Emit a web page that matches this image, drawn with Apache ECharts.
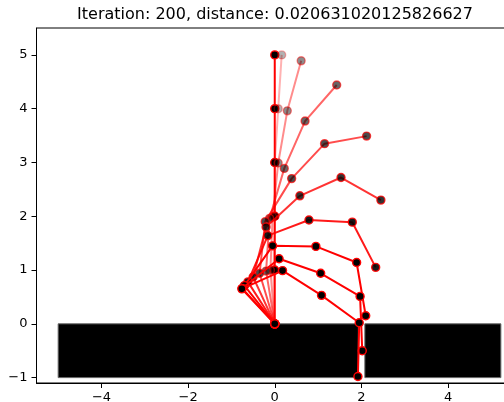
<!DOCTYPE html>
<html>
<head>
<meta charset="utf-8">
<script src="https://cdn.jsdelivr.net/npm/echarts@6/dist/echarts.min.js"></script>
<style>
html,body{margin:0;padding:0;background:#fff;}
#main{width:504px;height:402px;}
</style>
</head>
<body>
<div id="main"></div>
<script>
// ---- data ----
var titleText = 'Iteration: 200, distance: 0.020631020125826627';
var xTicks = [-4, -2, 0, 2, 4];
var yTicks = [-1, 0, 1, 2, 3, 4, 5];
var xRange = [-5.5, 5.5];
var yRange = [-1.1, 5.5];
// obstacles: [xStart, xEnd, yStart, yEnd]
var obstacleLeft = [-5.0, 1.93, -1.0, 0.0];
var obstacleRight = [2.08, 5.22, -1.0, 0.0];
// arm configurations over iterations (joint positions)
var chain0 = [[0,0],[0,1],[0,2],[0,3],[0,4],[0,5]];
var chain1 = [[0,0],[-0.03,1.0],[0,2.0],[0.0,3.0],[0.08,4.0],[0.16,5.0]];
var chain2 = [[0,0],[-0.1,0.995],[-0.05,1.99],[0.08,2.99],[0.29,3.96],[0.61,4.89]];
var chain3 = [[0,0],[-0.2,0.98],[-0.12,1.96],[0.22,2.89],[0.70,3.77],[1.43,4.44]];
var chain4 = [[0,0],[-0.35,0.94],[-0.22,1.90],[0.39,2.70],[1.15,3.35],[2.12,3.49]];
var chain5 = [[0,0],[-0.5,0.87],[-0.20,1.80],[0.58,2.38],[1.53,2.72],[2.45,2.30]];
var chain6 = [[0,0],[-0.62,0.78],[-0.16,1.64],[0.79,1.93],[1.79,1.89],[2.33,1.05]];
var chain7 = [[0,0],[-0.70,0.71],[-0.05,1.45],[0.95,1.44],[1.89,1.14],[2.10,0.15]];
var chain8 = [[0,0],[-0.75,0.66],[0.10,1.21],[1.06,0.94],[1.97,0.51],[2.02,-0.50]];
var chain9 = [[0,0],[-0.76,0.65],[0.18,0.99],[1.08,0.53],[1.95,0.02],[1.92,-0.98]];
var chains = [chain0, chain1, chain2, chain3, chain4, chain5, chain6, chain7, chain8, chain9];
var chainAlpha = [1.0, 0.3, 0.45, 0.6, 0.7, 0.8, 0.9, 1.0, 1.0, 1.0];

// ---- chart ----
function fmt(v){ return String(v).replace('-', '\u2212'); }
var FONT = 'DejaVu Sans';

var series = [];
series.push({
  type: 'custom',
  silent: true,
  z: 1,
  data: [obstacleLeft, obstacleRight],
  renderItem: function(params, api){
    var p0 = api.coord([api.value(0), api.value(3)]);
    var p1 = api.coord([api.value(1), api.value(2)]);
    return {
      type: 'rect',
      shape: {x: p0[0], y: p0[1], width: p1[0]-p0[0], height: p1[1]-p0[1]},
      style: {fill: '#000', stroke: '#666', lineWidth: 1}
    };
  },
  encode: {x: [0,1], y: [2,3]}
});
chains.forEach(function(c, i){
  series.push({
    type: 'line',
    data: c,
    silent: true,
    z: 2 + i,
    symbol: 'circle',
    symbolSize: 8,
    showAllSymbol: true,
    lineStyle: {color: '#ff0000', width: 2, opacity: chainAlpha[i]},
    itemStyle: {color: '#000', borderColor: '#ff0000', borderWidth: 1.4, opacity: chainAlpha[i]},
    emphasis: {disabled: true}
  });
});

var chart = echarts.init(document.getElementById('main'), null, {renderer: 'canvas'});
chart.setOption({
  animation: false,
  backgroundColor: '#fff',
  grid: {left: 36.5, right: -9, top: 28, bottom: 19, show: true, borderColor: '#000', borderWidth: 1, backgroundColor: 'transparent', containLabel: false, outerBoundsMode: 'none'},
  xAxis: {
    type: 'value', min: xRange[0], max: xRange[1],
    axisLine: {show: true, onZero: false, lineStyle: {color: '#000', width: 1}},
    axisTick: {show: true, length: 5, lineStyle: {color: '#000', width: 1}, customValues: xTicks},
    axisLabel: {show: true, color: '#000', fontFamily: FONT, fontSize: 13, margin: 8, customValues: xTicks, formatter: fmt},
    splitLine: {show: false}
  },
  yAxis: {
    type: 'value', min: yRange[0], max: yRange[1],
    axisLine: {show: true, onZero: false, lineStyle: {color: '#000', width: 1}},
    axisTick: {show: true, length: 5, lineStyle: {color: '#000', width: 1}, customValues: yTicks},
    axisLabel: {show: true, color: '#000', fontFamily: FONT, fontSize: 13, margin: 9, customValues: yTicks, formatter: fmt},
    splitLine: {show: false}
  },
  graphic: [{
    type: 'text', x: 275, y: 14.5, silent: true,
    style: {text: titleText, fill: '#000', font: '16px "DejaVu Sans"', textAlign: 'center', textVerticalAlign: 'middle'}
  }],
  series: series
});
</script>
</body>
</html>
